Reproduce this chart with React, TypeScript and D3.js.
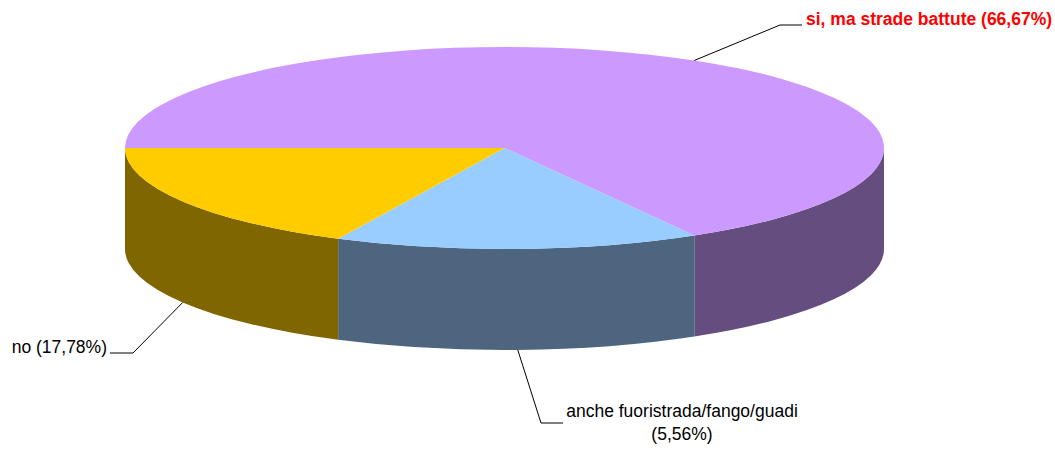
import React from "react";
import * as d3 from "d3";

// chart data
const categories = ["si, ma strade battute", "anche fuoristrada/fango/guadi", "no"];
const values = [66.67, 15.56, 17.78];
const labelLines = [
  ["si, ma strade battute (66,67%)"],
  ["anche fuoristrada/fango/guadi", "(5,56%)"],
  ["no (17,78%)"],
];
const topColors = ["#CC99FF", "#99CCFF", "#FFCC00"];
const sideColors = ["#654E7F", "#4E6580", "#806600"];

const W = 1055;
const H = 450;
const cx = 504.5;
const cy = 148;
const rx = 379.5;
const ry = 101;
const depth = 101;

// where each label sits (elbow of the leader line + text anchor)
const labelLayout = [
  { ex: 780, ey: 25, hx: 802, tx: 806, ty: 25, anchor: "start", bold: true, color: "#FF0000" },
  { ex: 541, ey: 423, hx: 563, tx: 682, ty: 417, anchor: "middle", bold: false, color: "#000" },
  { ex: 133, ey: 353, hx: 110, tx: 107, ty: 353, anchor: "end", bold: false, color: "#000" },
];

const pt = (a: number, dz = 0): [number, number] => [
  cx + rx * Math.sin(a),
  cy - ry * Math.cos(a) + dz,
];

function topPath(a0: number, a1: number) {
  const [x0, y0] = pt(a0);
  const [x1, y1] = pt(a1);
  const large = a1 - a0 > Math.PI ? 1 : 0;
  return `M${cx},${cy}L${x0},${y0}A${rx},${ry} 0 ${large} 1 ${x1},${y1}Z`;
}

function sidePath(a0: number, a1: number) {
  const b0 = Math.max(a0, Math.PI / 2);
  const b1 = Math.min(a1, (3 * Math.PI) / 2);
  if (b1 <= b0) return null;
  const [x0, y0] = pt(b0);
  const [x1, y1] = pt(b1);
  const [x2, y2] = pt(b1, depth);
  const [x3, y3] = pt(b0, depth);
  return `M${x0},${y0}A${rx},${ry} 0 0 1 ${x1},${y1}L${x2},${y2}A${rx},${ry} 0 0 0 ${x3},${y3}Z`;
}

export default function App() {
  const pie = d3
    .pie<number>()
    .sort(null)
    .value((d) => d)
    .startAngle(-Math.PI / 2)
    .endAngle((3 * Math.PI) / 2);
  const arcs = pie(values);

  return (
    <svg
      width={W}
      height={H}
      style={{ position: "absolute", left: 0, top: 0, background: "#fff" }}
      fontFamily="'Liberation Sans', Arial, sans-serif"
    >
      {arcs.map((d, i) => {
        const p = sidePath(d.startAngle, d.endAngle);
        return p ? <path key={"s" + i} d={p} fill={sideColors[i]} /> : null;
      })}
      {arcs.map((d, i) => (
        <path key={"t" + i} d={topPath(d.startAngle, d.endAngle)} fill={topColors[i]} />
      ))}
      {arcs.map((d, i) => {
        const mid = (d.startAngle + d.endAngle) / 2;
        const front = Math.cos(mid) < 0;
        const [ax, ay] = pt(mid, front ? depth : 0);
        const L = labelLayout[i];
        const lines = labelLines[i];
        return (
          <g key={"l" + i}>
            <polyline
              points={`${ax},${ay} ${L.ex},${L.ey} ${L.hx},${L.ey}`}
              fill="none"
              stroke="#000"
              strokeWidth={1}
            />
            <text
              x={L.tx}
              y={L.ty}
              textAnchor={L.anchor as any}
              fontSize={17.5}
              fontWeight={L.bold ? "bold" : "normal"}
              fill={L.color}
              dy={lines.length === 1 ? "0.35em" : 0}
              aria-label={categories[i]}
            >
              {lines.map((s, j) => (
                <tspan key={j} x={L.tx} dy={j === 0 ? 0 : 23}>
                  {s}
                </tspan>
              ))}
            </text>
          </g>
        );
      })}
    </svg>
  );
}
